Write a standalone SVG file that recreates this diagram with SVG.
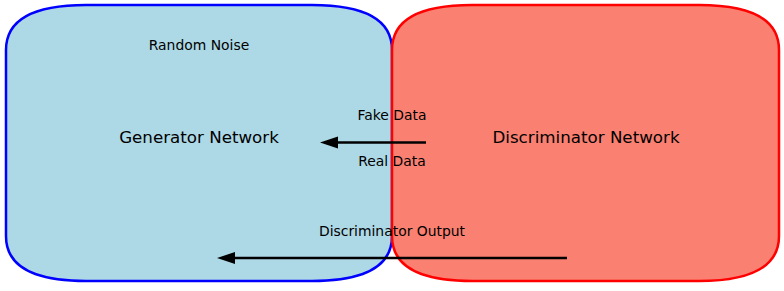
<svg xmlns="http://www.w3.org/2000/svg" width="784" height="291" viewBox="0 0 784 291">
<defs>
<style>
.lbl{font-family:"DejaVu Sans",sans-serif;font-size:13.9px;fill:#000;text-anchor:middle}
.big{font-family:"DejaVu Sans",sans-serif;font-size:16.7px;fill:#000;text-anchor:middle}
.conn{stroke:#000;stroke-width:2.5;fill:none}
</style>
</defs>
<rect width="784" height="291" fill="#fff"/>
<g id="generator">
<path d="M86,5 L312,5 Q392,5 392,50 L392,236 Q392,281 312,281 L86,281 Q6,281 6,236 L6,50 Q6,5 86,5 Z" fill="#add8e6" stroke="#0000ff" stroke-width="2.5"/>
<text class="big" x="199" y="143">Generator Network</text>
<text class="lbl" x="199" y="50">Random Noise</text>
</g>
<g id="discriminator">
<path d="M472,5 L699,5 Q779,5 779,50 L779,236 Q779,281 699,281 L472,281 Q392,281 392,236 L392,50 Q392,5 472,5 Z" fill="#fa8072" stroke="#ff0000" stroke-width="2.5"/>
<text class="big" x="586" y="143">Discriminator Network</text>
</g>
<g id="connectors">
<line class="conn" x1="426" y1="142.5" x2="336" y2="142.5"/>
<path d="M320,142.5 L338,136.5 L338,148.5 Z" fill="#000"/>
<text class="lbl" x="392" y="120">Fake Data</text>
<text class="lbl" x="392" y="166">Real Data</text>
<line class="conn" x1="567" y1="258" x2="233" y2="258"/>
<path d="M217,258 L235,252 L235,264 Z" fill="#000"/>
<text class="lbl" x="392" y="235.5">Discriminator Output</text>
</g>
</svg>
